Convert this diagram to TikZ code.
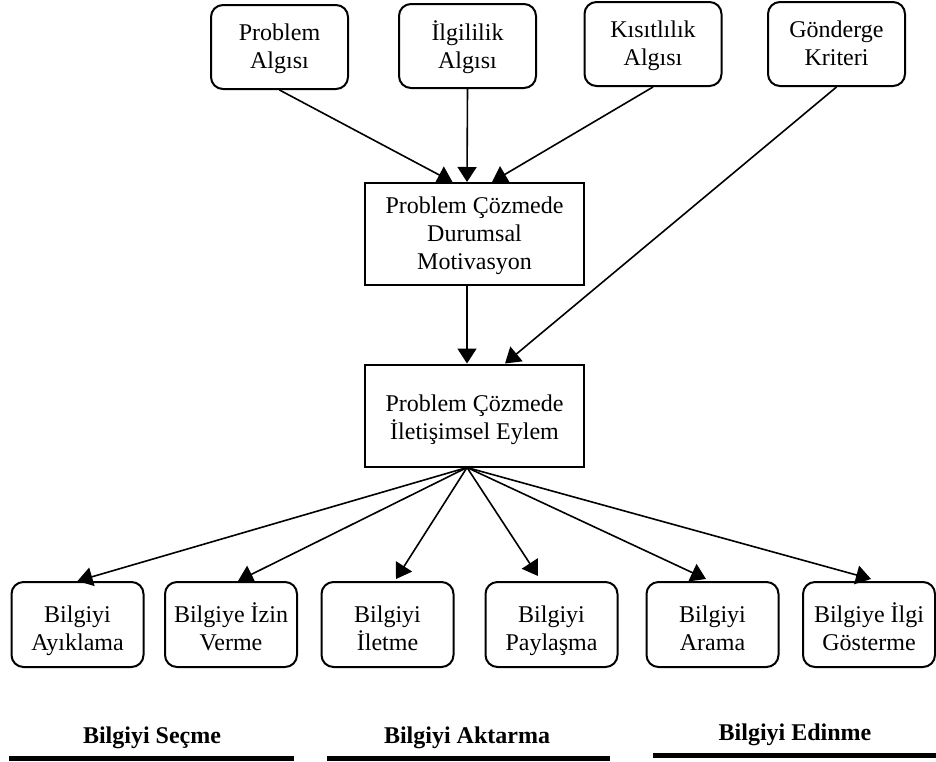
\documentclass[tikz,border=0pt]{standalone}
\usepackage{fontspec}
\setmainfont{Liberation Serif}
\usetikzlibrary{arrows.meta, calc}

\begin{document}
\begin{tikzpicture}[x=0.5pt, y=-0.5pt, >={Triangle[length=7.5pt,width=9.5pt]},
		algi/.style={draw, line width=1pt, rounded corners=6pt, minimum width=68.5pt, minimum height=42pt, inner sep=1pt, align=center, font=\fontsize{12}{14}\selectfont, text depth=1.2pt},
		durum/.style={draw, line width=1pt, minimum width=109.5pt, minimum height=51pt, inner sep=1pt, align=center, font=\fontsize{12}{14}\selectfont, text depth=0.7pt},
		bilgi/.style={algi, minimum width=66pt, minimum height=42.5pt, text height=26pt, text depth=0pt},
		ok/.style={->, line width=0.8pt},
		grup/.style={font=\bfseries\fontsize{12}{14}\selectfont}]
		\useasboundingbox (0,0) rectangle (936,761);

		% Top boxes
		\node[algi] (problem) at (279.5,47) {Problem\\Algısı};
		\node[algi] (ilgi) at (467.5,46) {İlgililik\\Algısı};
		\node[algi] (kisit) at (653,44) {Kısıtlılık\\Algısı};
		\node[algi] (gonderge) at (836.5,44) {Gönderge\\Kriteri};

		% Middle boxes
		\node[durum] (motiv) at (474.5,234) {Problem Çözmede\\Durumsal\\Motivasyon};
		\node[durum, text height=24.2pt, text depth=0pt] (eylem) at (474.5,415.5) {Problem Çözmede\\İletişimsel Eylem};

		% Bottom boxes
		\node[bilgi] (ayikla) at (77.5,624.5) {Bilgiyi\\Ayıklama};
		\node[bilgi] (izin) at (231,624.5) {Bilgiye İzin\\Verme};
		\node[bilgi] (ilet) at (387.5,624.5) {Bilgiyi\\İletme};
		\node[bilgi] (paylas) at (551.5,624.5) {Bilgiyi\\Paylaşma};
		\node[bilgi] (ara) at (712.5,624.5) {Bilgiyi\\Arama};
		\node[bilgi] (ilgigos) at (869,624.5) {Bilgiye İlgi\\Gösterme};

		% Arrows into motivation
		\draw[ok] (problem.south) -- ($(motiv.north)+(-22,0)$);
		\draw[ok] (ilgi.south) -- ($(motiv.north)+(-7.5,0)$);
		\draw[ok] (kisit.south) -- ($(motiv.north)+(17.5,0)$);

		% Arrows into action
		\draw[ok] ($(motiv.south)+(-7.5,0)$) -- ($(eylem.north)+(-7.5,0)$);
		\draw[ok] (gonderge.south) -- ($(eylem.north)+(30.5,0)$);

		% Arrows to behaviours
		\coordinate (kok) at ($(eylem.south)+(-7.5,0)$);
		\draw[ok] (kok) -- (ayikla.north);
		\draw[ok] (kok) -- ($(izin.north)+(7,0)$);
		\draw[ok] (kok) -- ($(ilet.north)+(8.5,-2)$);
		\draw[ok] (kok) -- ($(paylas.north)+(-13.5,-5)$);
		\draw[ok] (kok) -- ($(ara.north)+(-6.5,-2)$);
		\draw[ok] (kok) -- ($(ilgigos.north)+(2,-2)$);

		% Group labels
		\node[grup] (secme) at (152,738) {Bilgiyi Seçme};
		\node[grup] (aktar) at (467,738) {Bilgiyi Aktarma};
		\node[grup] (edin) at (795,735) {Bilgiyi Edinme};
		\draw[line width=2.5pt] (9,758) -- (294,758);
		\draw[line width=2.5pt] (327,758) -- (610,758);
		\draw[line width=2.5pt] (653,755) -- (936,755);
	\end{tikzpicture}
\end{document}
